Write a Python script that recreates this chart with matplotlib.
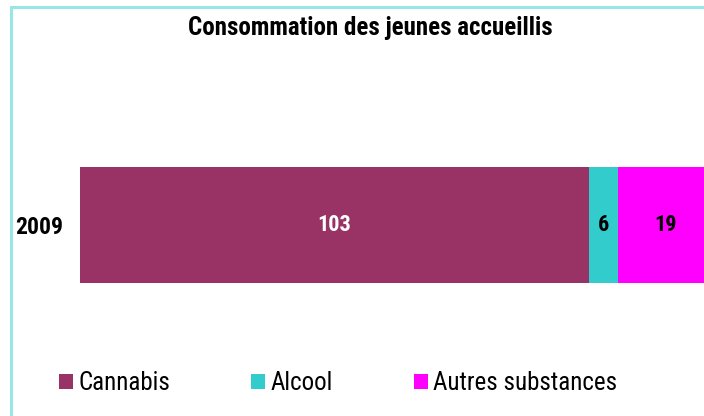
import matplotlib
matplotlib.use("Agg")
import matplotlib.pyplot as plt
from matplotlib.patches import Rectangle, Patch

# Data
years = ["2009"]
series = ["Cannabis", "Alcool", "Autres substances"]
values = [103, 6, 19]
colors = ["#993366", "#33CCCC", "#FF00FF"]
label_colors = ["white", "black", "black"]
title = "Consommation des jeunes accueillis"

W, H = 704, 416
fig = plt.figure(figsize=(W / 100, H / 100), dpi=100)
fig.patch.set_facecolor("white")

cond_font = ["Roboto Condensed", "DejaVu Sans"]

# chart frame (runs past the right and bottom edges)
fig.add_artist(Rectangle((11 / W, -0.1), 1.2, (H - 7) / H + 0.1,
                         transform=fig.transFigure, fill=False,
                         edgecolor="#99E6E6", linewidth=2.2))

total = sum(values)
px_per_unit = 4.94
ax_left, ax_right = 80, 80 + total * px_per_unit
ax_top, ax_bot = 167, 283
ax = fig.add_axes([ax_left / W, (H - ax_bot) / H,
                   (ax_right - ax_left) / W, (ax_bot - ax_top) / H])

left = 0
for name, v, c, lc in zip(series, values, colors, label_colors):
    ax.barh(0, v, left=left, height=1.0, color=c, label=name)
    ax.text(left + v / 2, 0, str(v), ha="center", va="center",
            color=lc, fontsize=16, fontweight="bold", family=cond_font)
    left += v

ax.set_xlim(0, total)
ax.set_ylim(-0.5, 0.5)
ax.set_yticks([0])
ax.set_yticklabels(years, fontsize=17, fontweight="bold", family=cond_font)
ax.tick_params(axis="y", length=0, pad=12)
ax.set_xticks([])
for s in ax.spines.values():
    s.set_visible(False)
ax.patch.set_alpha(0)

fig.text(370 / W, (H - 28) / H, title, ha="center", va="center",
         fontsize=18, fontweight="bold", family=cond_font)

handles = [Patch(facecolor=c, edgecolor="none") for c in colors]
fig.legend(handles, series, loc="center left",
           bbox_to_anchor=(59 / W, (H - 383) / H), ncol=3, frameon=False,
           borderpad=0, borderaxespad=0,
           prop={"family": cond_font, "size": 18}, handlelength=0.56,
           handleheight=0.56, handletextpad=0.2, columnspacing=3.25)

fig.savefig("out.png", dpi=100, facecolor="white")
